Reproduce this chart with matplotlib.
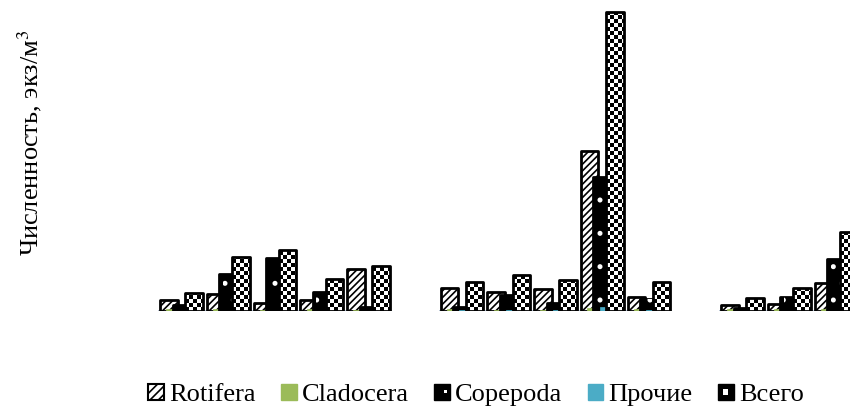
import numpy as np
import matplotlib
matplotlib.use('Agg')
import matplotlib.pyplot as plt
from matplotlib.patches import Rectangle
from matplotlib.legend_handler import HandlerBase

plt.rcParams['font.family'] = ['Liberation Serif', 'DejaVu Serif']
plt.rcParams['mathtext.fontset'] = 'stix'
plt.rcParams['hatch.linewidth'] = 1.2

# ── data (three station groups) ──
series = ["Rotifera", "Cladocera", "Copepoda", "Прочие", "Всего"]

rotifera_1 = [1.1, 1.7, 0.8, 1.1, 4.2]
cladocera_1 = [0.2, 0.2, 0.1, 0.2, 0.1]
copepoda_1 = [0.6, 3.7, 5.3, 1.9, 0.4]
prochie_1 = [0.05, 0.05, 0.05, 0.05, 0.05]
vsego_1 = [1.8, 5.4, 6.1, 3.2, 4.5]

rotifera_2 = [2.3, 1.9, 2.2, 16.0, 1.4]
cladocera_2 = [0.2, 0.1, 0.1, 0.3, 0.2]
copepoda_2 = [0.4, 1.6, 0.8, 13.4, 1.2]
prochie_2 = [0.1, 0.1, 0.1, 0.4, 0.1]
vsego_2 = [2.9, 3.6, 3.1, 29.9, 2.9]

rotifera_3 = [0.6, 0.7, 2.8]
cladocera_3 = [0.2, 0.2, 0.2]
copepoda_3 = [0.3, 1.4, 5.2]
prochie_3 = [0.05, 0.05, 0.05]
vsego_3 = [1.3, 2.3, 7.9]

groups = [
    [rotifera_1, cladocera_1, copepoda_1, prochie_1, vsego_1],
    [rotifera_2, cladocera_2, copepoda_2, prochie_2, vsego_2],
    [rotifera_3, cladocera_3, copepoda_3, prochie_3, vsego_3],
]

# ── layout / style ──
W, H = 850, 409
fig = plt.figure(figsize=(W / 100, H / 100), dpi=100)
ax = fig.add_axes([150 / W, (H - 311) / H, 700 / W, 311 / H])

step = 0.134      # offset between series inside a cluster
width = 0.375     # bar width
lw = 2.0
cell_x = 4 / 46.75   # checker cell, data units
cell_y = 0.4

green = '#9BBB59'
teal = '#4BACC6'

start = 0
for g in groups:
    n = len(g[0])
    x = start + np.arange(n)
    # baseline under each group
    ax.hlines(0, x[0] - 0.5, x[-1] + 0.5, color='#A9B7C9', lw=1.2, zorder=0.5)
    for k, vals in enumerate(g):
        xs = x + (k - 2) * step
        if k == 0:
            ax.bar(xs, vals, width, color='white', edgecolor='black', hatch='/////',
                   lw=lw, joinstyle='round', zorder=1)
        elif k == 1:
            ax.bar(xs, vals, width, color=green, edgecolor=green, lw=0.5, zorder=2)
        elif k == 2:
            ax.bar(xs, vals, width, color='black', edgecolor='black',
                   lw=lw, joinstyle='round', zorder=3)
            ax.bar(xs, vals, width * 0.6, color='none', edgecolor='white', hatch='.',
                   lw=0, zorder=3.1)
        elif k == 3:
            ax.bar(xs, vals, width, color=teal, edgecolor=teal, lw=0.5, zorder=4)
        else:
            bars = ax.bar(xs, vals, width, color='white', edgecolor='none', zorder=5)
            for b in bars:
                x0, h = b.get_x(), b.get_height()
                nx = int(np.ceil(width / cell_x))
                ny = int(np.ceil(h / cell_y))
                chk = (np.add.outer(np.arange(ny), np.arange(nx)) % 2).astype(float)
                im = ax.imshow(chk, cmap='gray', extent=(x0, x0 + nx * cell_x, 0, ny * cell_y),
                               origin='lower', interpolation='nearest', aspect='auto',
                               zorder=5.1)
                im.set_clip_path(b)
            ax.bar(xs, vals, width, color='none', edgecolor='black', lw=lw,
                   joinstyle='round', zorder=5.2)
    start += n + 1

ax.set_xlim(-0.674, 14.30)
ax.set_ylim(0, 31.1)
ax.axis('off')

fig.text(30 / W, 1 - 143 / H, "Численность, экз/м$^3$", rotation=90,
         ha='center', va='center', fontsize=19)


# ── legend handles ──
class CheckerHandler(HandlerBase):
    def create_artists(self, legend, orig_handle, xd, yd, w, h, fontsize, trans):
        cw, ch = w / 3, h / 3
        return [Rectangle((-xd, -yd), w, h, fc='black', ec='black', lw=1, transform=trans),
                Rectangle((-xd + cw, -yd + ch), cw, ch, fc='white', lw=0, transform=trans)]


class DotHandler(HandlerBase):
    def create_artists(self, legend, orig_handle, xd, yd, w, h, fontsize, trans):
        return [Rectangle((-xd, -yd), w, h, fc='black', ec='black', lw=1, transform=trans),
                Rectangle((-xd + 0.65 * w, -yd + 0.45 * h), 0.15 * w, 0.15 * h,
                          fc='white', lw=0, transform=trans)]


h_rot = Rectangle((0, 0), 1, 1, fc='white', ec='black', hatch='////', lw=1.5)
h_cla = Rectangle((0, 0), 1, 1, fc=green, ec=green)
h_cop = Rectangle((0, 0), 1, 1, fc='black')
h_pro = Rectangle((0, 0), 1, 1, fc=teal, ec=teal)
h_vse = Rectangle((0, 0), 1, 1, fc='black')

fig.legend([h_rot, h_cla, h_cop, h_pro, h_vse], series, loc='center',
           bbox_to_anchor=(476 / W, 14 / H), ncol=5, frameon=False, fontsize=19,
           handlelength=0.6, handleheight=0.6, handletextpad=0.2, columnspacing=0.95,
           handler_map={h_cop: DotHandler(), h_vse: CheckerHandler()})

fig.savefig('out.png', dpi=100)
